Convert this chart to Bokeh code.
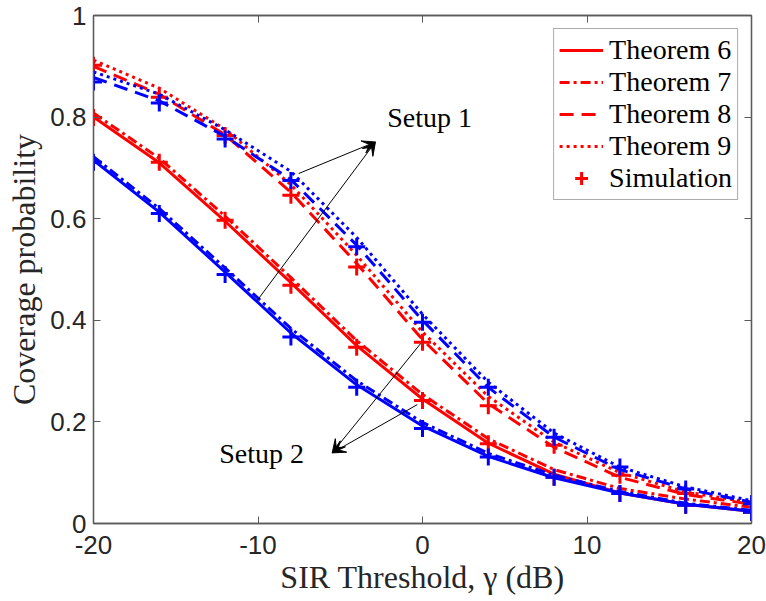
from bokeh.plotting import figure
from bokeh.models import (Range1d, FixedTicker, CustomJSTickFormatter, LinearAxis,
                          Legend, LegendItem, Arrow, VeeHead, Label)
from bokeh.embed import file_html
from bokeh.resources import INLINE

# ---------------- data ----------------
x = [-20, -16, -12, -8, -4, 0, 4, 8, 12, 16, 20]

# Setup 1 (blue)
blue_t6 = [0.715, 0.613, 0.495, 0.375, 0.273, 0.192, 0.132, 0.090, 0.060, 0.038, 0.024]
blue_t7 = [0.722, 0.620, 0.503, 0.384, 0.281, 0.199, 0.138, 0.095, 0.063, 0.040, 0.026]
blue_sim_lo = [0.711, 0.610, 0.490, 0.367, 0.268, 0.187, 0.131, 0.091, 0.059, 0.036, 0.022]
blue_t8 = [0.878, 0.832, 0.762, 0.677, 0.548, 0.400, 0.268, 0.170, 0.106, 0.068, 0.042]
blue_t9 = [0.889, 0.845, 0.775, 0.693, 0.563, 0.412, 0.278, 0.178, 0.111, 0.072, 0.045]
blue_sim_hi = [0.869, 0.828, 0.757, 0.675, 0.545, 0.396, 0.268, 0.170, 0.111, 0.068, 0.039]

# Setup 2 (red)
red_t6 = [0.800, 0.710, 0.595, 0.474, 0.350, 0.245, 0.158, 0.097, 0.060, 0.038, 0.024]
red_t7 = [0.808, 0.719, 0.605, 0.484, 0.360, 0.254, 0.167, 0.106, 0.069, 0.048, 0.032]
red_sim_lo = [0.799, 0.711, 0.597, 0.469, 0.347, 0.242, 0.157, 0.091, 0.059, 0.036, 0.022]
red_t8 = [0.900, 0.845, 0.765, 0.652, 0.512, 0.362, 0.236, 0.150, 0.091, 0.057, 0.038]
red_t9 = [0.912, 0.857, 0.776, 0.667, 0.528, 0.377, 0.250, 0.160, 0.100, 0.062, 0.041]
red_sim_hi = [0.902, 0.839, 0.764, 0.646, 0.505, 0.357, 0.232, 0.154, 0.095, 0.059, 0.039]

x_ticks = [-20, -10, 0, 10, 20]
y_ticks = [0, 0.2, 0.4, 0.6, 0.8, 1]
legend_labels = ["Theorem 6", "Theorem 7", "Theorem 8", "Theorem 9", "Simulation"]

RED = "#ff0000"
BLUE = "#0000ff"
AX = "#5a5a5a"
SERIF = "Liberation Serif"
SANS = "Liberation Sans"

p = figure(width=766, height=601, x_range=Range1d(-20, 20), y_range=Range1d(0, 1),
           output_backend="svg", toolbar_location=None,
           min_border_left=93, min_border_right=15, min_border_top=15, min_border_bottom=78)
p.xgrid.visible = False
p.ygrid.visible = False
p.background_fill_color = "white"
p.border_fill_color = "white"
p.outline_line_color = AX
p.outline_line_width = 1.3

fmt = CustomJSTickFormatter(code="return String(Math.round(tick*10)/10);")

for ax in [p.xaxis[0], p.yaxis[0]]:
    ax.axis_line_color = AX
    ax.axis_line_width = 1.3
    ax.major_tick_line_color = AX
    ax.major_tick_in = 7
    ax.major_tick_out = 0
    ax.minor_tick_line_color = None
    ax.major_label_text_font = SANS
    ax.major_label_text_font_size = "26px"
    ax.major_label_text_color = "#262626"
    ax.axis_label_text_font = SERIF
    ax.axis_label_text_font_size = "32px"
    ax.axis_label_text_font_style = "normal"
    ax.axis_label_text_color = "#262626"
    ax.formatter = fmt

p.xaxis[0].ticker = FixedTicker(ticks=x_ticks)
p.yaxis[0].ticker = FixedTicker(ticks=y_ticks)
p.xaxis[0].axis_label = "SIR Threshold, γ (dB)"
p.yaxis[0].axis_label = "Coverage probability"
p.xaxis[0].major_label_standoff = 12
p.yaxis[0].major_label_standoff = 7
p.xaxis[0].axis_label_standoff = 2
p.yaxis[0].axis_label_standoff = 5

# mirrored tick axes (box on), without labels
top = LinearAxis(ticker=FixedTicker(ticks=x_ticks))
right = LinearAxis(ticker=FixedTicker(ticks=y_ticks))
for ax in [top, right]:
    ax.axis_line_color = AX
    ax.axis_line_width = 1.3
    ax.major_tick_line_color = AX
    ax.major_tick_in = 7
    ax.major_tick_out = 0
    ax.minor_tick_line_color = None
    ax.major_label_text_color = None
    ax.major_label_text_font_size = "6px"
    ax.major_label_standoff = 0
p.add_layout(top, "above")
p.add_layout(right, "right")

LW = 3
styles = {"t6": "solid", "t7": "10 4 3 4", "t8": "14 8", "t9": "3 4"}

def draw(color, t6, t7, t8, t9, sim_lo, sim_hi):
    r6 = p.line(x, t6, line_color=color, line_width=LW, line_dash=styles["t6"])
    r7 = p.line(x, t7, line_color=color, line_width=LW, line_dash=styles["t7"])
    r8 = p.line(x, t8, line_color=color, line_width=LW, line_dash=styles["t8"])
    r9 = p.line(x, t9, line_color=color, line_width=LW, line_dash=styles["t9"])
    s1 = p.scatter(x, sim_lo, marker="cross", size=17, line_color=color, line_width=3)
    s2 = p.scatter(x, sim_hi, marker="cross", size=17, line_color=color, line_width=3)
    return [r6, r7, r8, r9, s1]

red_r = draw(RED, red_t6, red_t7, red_t8, red_t9, red_sim_lo, red_sim_hi)
blue_r = draw(BLUE, blue_t6, blue_t7, blue_t8, blue_t9, blue_sim_lo, blue_sim_hi)

legend = Legend(items=[LegendItem(label=lab, renderers=[r]) for lab, r in zip(legend_labels, red_r)],
                location="top_right")
legend.margin = 13
legend.padding = 5
legend.spacing = 0
legend.glyph_width = 44
legend.glyph_height = 32
legend.label_height = 32
legend.label_standoff = 6
legend.label_text_font = SERIF
legend.label_text_font_size = "28px"
legend.label_text_color = "black"
legend.border_line_color = AX
legend.border_line_width = 1.3
legend.background_fill_color = "white"
legend.background_fill_alpha = 1
p.add_layout(legend)

# annotations
def arrow(xs, ys, xe, ye):
    p.add_layout(Arrow(end=VeeHead(size=13, fill_color="black", line_color="black", line_width=1),
                       x_start=xs, y_start=ys, x_end=xe, y_end=ye,
                       line_color="black", line_width=1))

arrow(-10.05, 0.439, -2.86, 0.751)
arrow(-7.52, 0.689, -2.86, 0.751)
arrow(-0.12, 0.354, -5.49, 0.139)
arrow(-0.32, 0.234, -5.49, 0.139)

p.add_layout(Label(x=-2.15, y=0.80, text="Setup 1", text_font=SERIF, text_font_size="28px",
                   text_baseline="middle", text_align="left", text_color="black"))
p.add_layout(Label(x=-7.2, y=0.138, text="Setup 2", text_font=SERIF, text_font_size="28px",
                   text_baseline="middle", text_align="right", text_color="black"))

open("out.html", "w").write(file_html(p, INLINE))
